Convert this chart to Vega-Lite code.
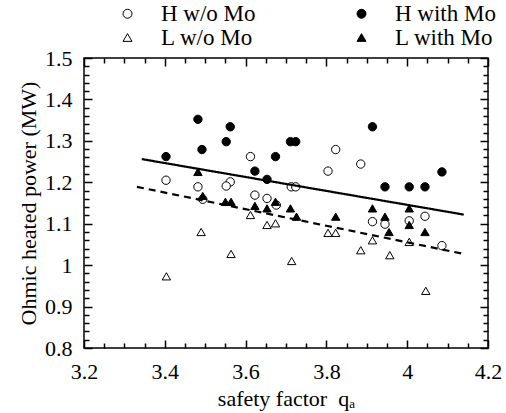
{
  "$schema": "https://vega.github.io/schema/vega-lite/v6.json",
  "width": 404,
  "height": 290,
  "autosize": {"type": "none"},
  "padding": {"left": 84, "top": 58, "right": 18, "bottom": 65},
  "background": "white",
  "datasets": {
    "pts": [
      {"series": "H w/o Mo", "q": 3.403, "P": 1.205},
      {"series": "H w/o Mo", "q": 3.482, "P": 1.189},
      {"series": "H w/o Mo", "q": 3.494, "P": 1.159},
      {"series": "H w/o Mo", "q": 3.562, "P": 1.201},
      {"series": "H w/o Mo", "q": 3.552, "P": 1.191},
      {"series": "H w/o Mo", "q": 3.612, "P": 1.262},
      {"series": "H w/o Mo", "q": 3.713, "P": 1.189},
      {"series": "H w/o Mo", "q": 3.724, "P": 1.189},
      {"series": "H w/o Mo", "q": 3.823, "P": 1.279},
      {"series": "H w/o Mo", "q": 3.804, "P": 1.227},
      {"series": "H w/o Mo", "q": 3.623, "P": 1.169},
      {"series": "H w/o Mo", "q": 3.653, "P": 1.161},
      {"series": "H w/o Mo", "q": 3.676, "P": 1.145},
      {"series": "H w/o Mo", "q": 3.885, "P": 1.244},
      {"series": "H w/o Mo", "q": 3.914, "P": 1.105},
      {"series": "H w/o Mo", "q": 3.945, "P": 1.099},
      {"series": "H w/o Mo", "q": 4.005, "P": 1.107},
      {"series": "H w/o Mo", "q": 4.044, "P": 1.118},
      {"series": "H w/o Mo", "q": 4.086, "P": 1.047},
      {"series": "L w/o Mo", "q": 3.404, "P": 0.973},
      {"series": "L w/o Mo", "q": 3.49, "P": 1.08},
      {"series": "L w/o Mo", "q": 3.564, "P": 1.027},
      {"series": "L w/o Mo", "q": 3.612, "P": 1.121},
      {"series": "L w/o Mo", "q": 3.653, "P": 1.097},
      {"series": "L w/o Mo", "q": 3.674, "P": 1.101},
      {"series": "L w/o Mo", "q": 3.714, "P": 1.01},
      {"series": "L w/o Mo", "q": 3.804, "P": 1.078},
      {"series": "L w/o Mo", "q": 3.823, "P": 1.078},
      {"series": "L w/o Mo", "q": 3.885, "P": 1.036},
      {"series": "L w/o Mo", "q": 3.914, "P": 1.06},
      {"series": "L w/o Mo", "q": 3.957, "P": 1.024},
      {"series": "L w/o Mo", "q": 4.005, "P": 1.056},
      {"series": "L w/o Mo", "q": 4.046, "P": 0.938},
      {"series": "H with Mo", "q": 3.403, "P": 1.262},
      {"series": "H with Mo", "q": 3.482, "P": 1.352},
      {"series": "H with Mo", "q": 3.492, "P": 1.279},
      {"series": "H with Mo", "q": 3.562, "P": 1.334},
      {"series": "H with Mo", "q": 3.552, "P": 1.298},
      {"series": "H with Mo", "q": 3.674, "P": 1.262},
      {"series": "H with Mo", "q": 3.711, "P": 1.298},
      {"series": "H with Mo", "q": 3.724, "P": 1.298},
      {"series": "H with Mo", "q": 3.623, "P": 1.227},
      {"series": "H with Mo", "q": 3.653, "P": 1.207},
      {"series": "H with Mo", "q": 3.914, "P": 1.334},
      {"series": "H with Mo", "q": 4.086, "P": 1.225},
      {"series": "H with Mo", "q": 3.945, "P": 1.189},
      {"series": "H with Mo", "q": 4.005, "P": 1.189},
      {"series": "H with Mo", "q": 4.044, "P": 1.189},
      {"series": "L with Mo", "q": 3.482, "P": 1.225},
      {"series": "L with Mo", "q": 3.494, "P": 1.167},
      {"series": "L with Mo", "q": 3.55, "P": 1.153},
      {"series": "L with Mo", "q": 3.564, "P": 1.153},
      {"series": "L with Mo", "q": 3.623, "P": 1.143},
      {"series": "L with Mo", "q": 3.653, "P": 1.137},
      {"series": "L with Mo", "q": 3.674, "P": 1.153},
      {"series": "L with Mo", "q": 3.711, "P": 1.137},
      {"series": "L with Mo", "q": 3.726, "P": 1.117},
      {"series": "L with Mo", "q": 3.823, "P": 1.117},
      {"series": "L with Mo", "q": 3.914, "P": 1.137},
      {"series": "L with Mo", "q": 3.945, "P": 1.117},
      {"series": "L with Mo", "q": 4.005, "P": 1.137},
      {"series": "L with Mo", "q": 4.005, "P": 1.097},
      {"series": "L with Mo", "q": 3.955, "P": 1.08},
      {"series": "L with Mo", "q": 4.044, "P": 1.08}
    ],
    "fits": [
      {"fit": "H", "q": 3.343, "P": 1.256},
      {"fit": "H", "q": 4.14, "P": 1.122},
      {"fit": "L", "q": 3.331, "P": 1.189},
      {"fit": "L", "q": 4.135, "P": 1.028}
    ]
  },
  "layer": [
    {
      "data": {"name": "pts"},
      "mark": {"type": "point", "filled": true, "strokeWidth": 1, "opacity": 1, "size": 70},
      "encoding": {
        "x": {
          "field": "q", "type": "quantitative",
          "scale": {"domain": [3.2, 4.2], "nice": false, "zero": false},
          "axis": {
            "orient": "bottom",
            "values": [3.2, 3.25, 3.3, 3.35, 3.4, 3.45, 3.5, 3.55, 3.6, 3.65, 3.7, 3.75, 3.8, 3.85, 3.9, 3.95, 4.0, 4.05, 4.1, 4.15, 4.2],
            "format": "~g",
            "labelExpr": "abs(datum.value*5-round(datum.value*5))<0.01 ? datum.label : ''",
            "tickSize": {"condition": {"test": "abs(datum.value*5-round(datum.value*5))<0.01", "value": -8}, "value": -5},
            "labelPadding": 21,
            "labelFlush": false,
            "labelOverlap": false,
            "title": "safety factor\u00a0\u00a0q\u2090",
            "titlePadding": 3
          }
        },
        "y": {
          "field": "P", "type": "quantitative",
          "scale": {"domain": [0.8, 1.5], "nice": false, "zero": false},
          "axis": {
            "orient": "left",
            "values": [0.8, 0.82, 0.84, 0.86, 0.88, 0.9, 0.92, 0.94, 0.96, 0.98, 1.0, 1.02, 1.04, 1.06, 1.08, 1.1, 1.12, 1.14, 1.16, 1.18, 1.2, 1.22, 1.24, 1.26, 1.28, 1.3, 1.32, 1.34, 1.36, 1.38, 1.4, 1.42, 1.44, 1.46, 1.48, 1.5],
            "format": "~g",
            "labelExpr": "abs(datum.value*10-round(datum.value*10))<0.01 ? datum.label : ''",
            "tickSize": {"condition": {"test": "abs(datum.value*10-round(datum.value*10))<0.01", "value": -8}, "value": -5},
            "labelPadding": 20,
            "labelFlush": false,
            "labelOverlap": false,
            "title": "Ohmic heated power (MW)",
            "titleX": -56,
            "titleY": 145,
            "titleAngle": 270,
            "titleAlign": "center",
            "titleBaseline": "middle"
          }
        },
        "fill": {
          "field": "series", "type": "nominal",
          "scale": {"domain": ["H w/o Mo", "L w/o Mo", "H with Mo", "L with Mo"], "range": ["white", "white", "black", "black"]}
        },
        "stroke": {
          "field": "series", "type": "nominal",
          "scale": {"domain": ["H w/o Mo", "L w/o Mo", "H with Mo", "L with Mo"], "range": ["black", "black", "black", "black"]}
        },
        "shape": {
          "field": "series", "type": "nominal",
          "scale": {"domain": ["H w/o Mo", "L w/o Mo", "H with Mo", "L with Mo"], "range": ["circle", "triangle-up", "circle", "triangle-up"]}
        }
      }
    },
    {
      "data": {"name": "fits"},
      "mark": {"type": "line", "color": "black", "strokeWidth": 2.2},
      "encoding": {
        "x": {
          "field": "q", "type": "quantitative",
          "scale": {"domain": [3.2, 4.2], "nice": false, "zero": false},
          "axis": {
            "orient": "top",
            "values": [3.2, 3.25, 3.3, 3.35, 3.4, 3.45, 3.5, 3.55, 3.6, 3.65, 3.7, 3.75, 3.8, 3.85, 3.9, 3.95, 4.0, 4.05, 4.1, 4.15, 4.2],
            "labels": false,
            "tickSize": {"condition": {"test": "abs(datum.value*5-round(datum.value*5))<0.01", "value": -8}, "value": -5},
            "title": null
          }
        },
        "y": {
          "field": "P", "type": "quantitative",
          "scale": {"domain": [0.8, 1.5], "nice": false, "zero": false},
          "axis": {
            "orient": "right",
            "values": [0.8, 0.82, 0.84, 0.86, 0.88, 0.9, 0.92, 0.94, 0.96, 0.98, 1.0, 1.02, 1.04, 1.06, 1.08, 1.1, 1.12, 1.14, 1.16, 1.18, 1.2, 1.22, 1.24, 1.26, 1.28, 1.3, 1.32, 1.34, 1.36, 1.38, 1.4, 1.42, 1.44, 1.46, 1.48, 1.5],
            "labels": false,
            "tickSize": {"condition": {"test": "abs(datum.value*10-round(datum.value*10))<0.01", "value": -8}, "value": -5},
            "title": null
          }
        },
        "strokeDash": {
          "field": "fit", "type": "nominal",
          "scale": {"domain": ["H", "L"], "range": [[1, 0], [7, 5]]},
          "legend": null
        }
      }
    }
  ],
  "resolve": {"axis": {"x": "independent", "y": "independent"}},
  "config": {
    "font": "Liberation Serif",
    "view": {"stroke": "black", "strokeWidth": 1.5},
    "axis": {
      "labelFont": "Liberation Serif", "labelFontSize": 22, "labelColor": "black",
      "titleFont": "Liberation Serif", "titleFontSize": 22, "titleFontWeight": "normal", "titleColor": "black",
      "tickColor": "black", "tickWidth": 1.5, "domain": false, "grid": false
    },
    "legend": {
      "title": null,
      "orient": "none",
      "legendX": 32,
      "legendY": -56,
      "columns": 2,
      "columnPadding": 94,
      "rowPadding": 0,
      "labelFont": "Liberation Serif",
      "labelFontSize": 23,
      "labelColor": "black",
      "labelOffset": 22,
      "symbolSize": 80,
      "symbolStrokeWidth": 1,
      "padding": 0
    }
  }
}
